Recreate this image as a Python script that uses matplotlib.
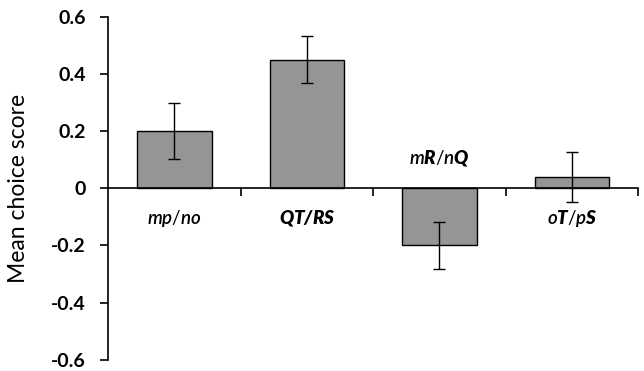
import numpy as np
import matplotlib.pyplot as plt

plt.rcParams['font.family'] = ['Lato', 'DejaVu Sans']
plt.rcParams['mathtext.fontset'] = 'custom'
plt.rcParams['mathtext.rm'] = 'Lato'
plt.rcParams['mathtext.it'] = 'Lato:italic:semibold'
plt.rcParams['mathtext.bf'] = 'Lato:bold'
plt.rcParams['mathtext.bfit'] = 'Lato:italic:heavy'

labels = [r'$\mathit{mp/no}$', r'$\mathbfit{QT/RS}$',
          r'$\mathit{m}\mathbfit{R}\mathit{/n}\mathbfit{Q}$',
          r'$\mathit{o}\mathbfit{T}\mathit{/p}\mathbfit{S}$']
means = [0.20, 0.45, -0.20, 0.04]
errs = [0.097, 0.083, 0.083, 0.088]
yticks = [-0.6, -0.4, -0.2, 0, 0.2, 0.4, 0.6]
ytick_labels = ['-0.6', '-0.4', '-0.2', '0', '0.2', '0.4', '0.6']

fig = plt.figure(figsize=(6.44, 3.71), dpi=100)
ax = fig.add_axes([0.168, 0.03, 0.823, 0.925])

x = np.arange(len(means))
ax.bar(x, means, width=0.56, color='#959595', edgecolor='black', linewidth=1.0,
       yerr=errs, error_kw=dict(ecolor='black', elinewidth=1.0, capsize=4, capthick=1.0))

ax.set_xlim(-0.5, 3.5)
ax.set_ylim(-0.6, 0.6)
ax.set_yticks(yticks)
ax.set_yticklabels(ytick_labels, fontweight='bold', fontsize=14)
ax.set_xticks(x + 0.5)
ax.set_xticklabels([])
ax.tick_params(axis='x', direction='out', length=6, width=1.2)
ax.tick_params(axis='y', direction='out', length=6, width=1.2, pad=10)
ax.spines['bottom'].set_position(('data', 0))
ax.spines['top'].set_visible(False)
ax.spines['right'].set_visible(False)
ax.spines['left'].set_linewidth(1.2)
ax.spines['bottom'].set_linewidth(1.2)
ax.set_ylabel('Mean choice score', fontsize=16.5, labelpad=16)

for i, (lab, m) in enumerate(zip(labels, means)):
    if m < 0:
        ax.text(i, 0.07, lab, ha='center', va='bottom', fontsize=13.5)
    else:
        ax.text(i, -0.07, lab, ha='center', va='top', fontsize=13.5)

fig.savefig('out.png', dpi=100)
